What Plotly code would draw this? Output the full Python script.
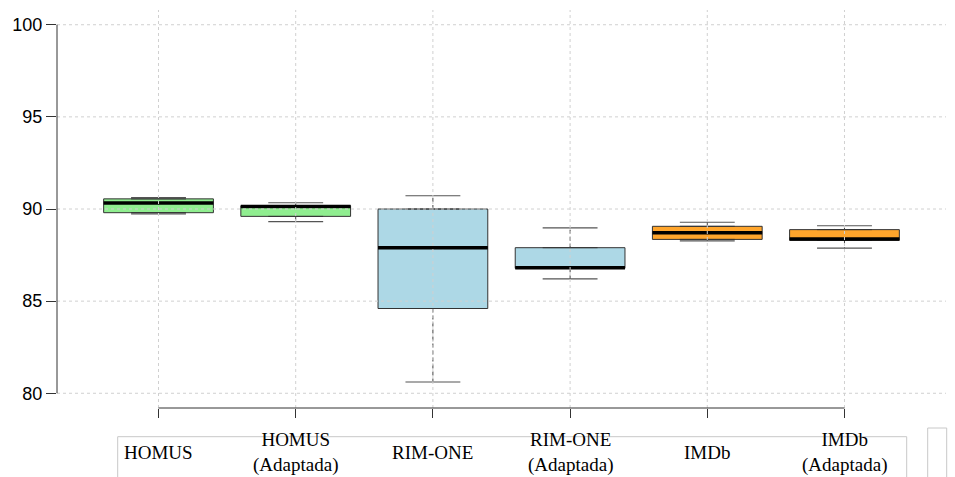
import plotly.graph_objects as go

# ---- data ----
categories = ["HOMUS", "HOMUS<br>(Adaptada)", "RIM-ONE", "RIM-ONE<br>(Adaptada)", "IMDb", "IMDb<br>(Adaptada)"]
positions = [1, 2, 3, 4, 5, 6]
lower_whisker = [89.73, 89.31, 80.61, 86.21, 88.27, 87.88]
q1_values = [89.80, 89.60, 84.60, 86.78, 88.35, 88.30]
median_values = [90.33, 90.13, 87.90, 86.81, 88.71, 88.37]
q3_values = [90.55, 90.18, 90.00, 87.90, 89.06, 88.88]
upper_whisker = [90.62, 90.34, 90.72, 88.98, 89.28, 89.09]
box_colors = ["#90EE90", "#90EE90", "#ADD8E6", "#ADD8E6", "#FFA52C", "#FFA52C"]
y_ticks = [80, 85, 90, 95, 100]

# ---- style ----
W, H = 955, 477
ML, MR, MT, MB = 57, 9, 10, 69
PW, PH = W - ML - MR, H - MT - MB
BOX_W = 0.8
CAP_W = 0.4
XR = [0.26, 6.74]
YR = [79.2, 100.8]


def px_x(p):
    return (p - ML) / PW


def px_y(p):
    return (MT + PH - p) / PH


fig = go.Figure()

for i, cat in enumerate(categories):
    x = positions[i]
    fig.add_trace(go.Box(
        x=[x], q1=[q1_values[i]], median=[median_values[i]], q3=[q3_values[i]],
        lowerfence=[q1_values[i]], upperfence=[q3_values[i]],
        width=BOX_W, fillcolor=box_colors[i],
        line=dict(color="#333333", width=1),
        boxpoints=False, hoverinfo="skip", showlegend=False,
    ))
    # whiskers (dashed)
    fig.add_trace(go.Scatter(
        x=[x, x, None, x, x],
        y=[q3_values[i], upper_whisker[i], None, q1_values[i], lower_whisker[i]],
        mode="lines", line=dict(color="#444444", width=1, dash="4px,3px"),
        hoverinfo="skip", showlegend=False,
    ))
    # caps
    fig.add_trace(go.Scatter(
        x=[x - CAP_W / 2, x + CAP_W / 2, None, x - CAP_W / 2, x + CAP_W / 2],
        y=[upper_whisker[i], upper_whisker[i], None, lower_whisker[i], lower_whisker[i]],
        mode="lines", line=dict(color="#555555", width=1.2),
        hoverinfo="skip", showlegend=False,
    ))
    # thick median
    fig.add_trace(go.Scatter(
        x=[x - BOX_W / 2, x + BOX_W / 2],
        y=[median_values[i], median_values[i]],
        mode="lines", line=dict(color="#000000", width=3.5),
        hoverinfo="skip", showlegend=False,
    ))

shapes = []
# dotted grid drawn on top (as in R's grid())
for v in y_ticks:
    shapes.append(dict(type="line", xref="paper", yref="y", x0=0, x1=1, y0=v, y1=v,
                       line=dict(color="#D0D0D0", width=1, dash="dot"), layer="above"))
for p in positions:
    shapes.append(dict(type="line", xref="x", yref="paper", x0=p, x1=p, y0=0, y1=1,
                       line=dict(color="#D0D0D0", width=1, dash="dot"), layer="above"))
# R-style axis lines (only between first and last tick)
shapes.append(dict(type="line", xref="paper", yref="y", x0=0, x1=0,
                   y0=y_ticks[0], y1=y_ticks[-1], line=dict(color="#333333", width=1)))
shapes.append(dict(type="line", xref="x", yref="paper", x0=positions[0], x1=positions[-1],
                   y0=0, y1=0, line=dict(color="#333333", width=1)))
# label table frame
shapes.append(dict(type="rect", xref="paper", yref="paper",
                   x0=px_x(117.7), x1=px_x(906.7), y0=px_y(436.7), y1=px_y(490),
                   line=dict(color="#C8C8C8", width=1), layer="below"))
shapes.append(dict(type="rect", xref="paper", yref="paper",
                   x0=px_x(927.7), x1=px_x(946.7), y0=px_y(428), y1=px_y(490),
                   line=dict(color="#C8C8C8", width=1), layer="below"))

annotations = []
for i, cat in enumerate(categories):
    annotations.append(dict(
        x=positions[i], xref="x", y=px_y(452), yref="paper",
        text=cat, showarrow=False, xanchor="center", yanchor="middle",
        font=dict(family="Liberation Serif", size=19, color="#000000"),
        align="center",
    ))

fig.update_layout(
    width=W, height=H,
    margin=dict(l=ML, r=MR, t=MT, b=MB, pad=0),
    paper_bgcolor="white", plot_bgcolor="white",
    boxmode="overlay",
    shapes=shapes, annotations=annotations,
    xaxis=dict(range=XR, tickvals=positions, showticklabels=False, ticks="outside",
               ticklen=9, tickwidth=1, tickcolor="#333333", showgrid=False,
               zeroline=False, showline=False),
    yaxis=dict(range=YR, tickvals=y_ticks, ticks="outside", ticklen=10, tickwidth=1,
               tickcolor="#333333", showgrid=False, zeroline=False, showline=False,
               tickfont=dict(family="Liberation Sans", size=18, color="#000000")),
)

fig.write_html("out.html")
